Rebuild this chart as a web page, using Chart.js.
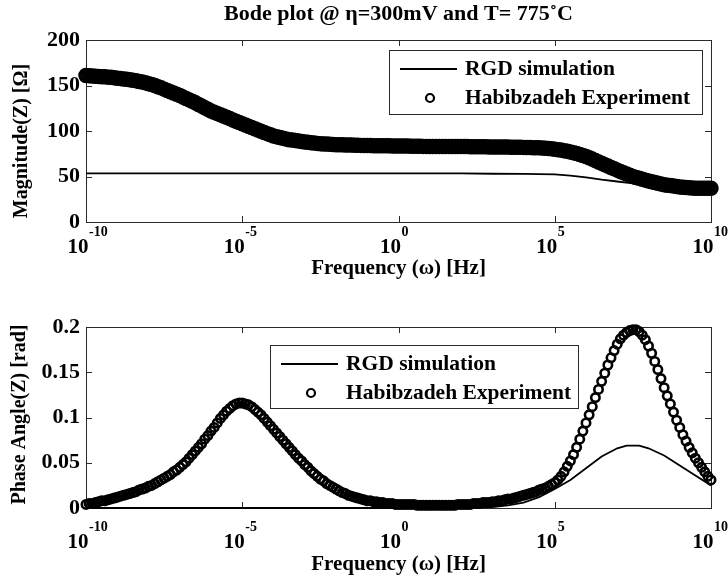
<!DOCTYPE html>
<html>
<head>
<meta charset="utf-8">
<script src="https://cdn.jsdelivr.net/npm/chart.js@4/dist/chart.umd.min.js"></script>
<style>
  html, body { margin: 0; padding: 0; background: #fff; }
  #wrap { position: relative; width: 728px; height: 577px; }
  #magCanvas { position: absolute; left: 0; top: 0; }
  #phaseCanvas { position: absolute; left: 0; top: 290px; }
</style>
</head>
<body>
<div id="wrap">
  <canvas id="magCanvas" width="728" height="290"></canvas>
  <canvas id="phaseCanvas" width="728" height="287"></canvas>
</div>
<script>
// log10 of the measured frequencies (Hz)
const freqExp = [
  -10,-9.9,-9.8,-9.7,-9.6,-9.5,-9.4,-9.3,-9.2,-9.1,
  -9,-8.9,-8.8,-8.7,-8.6,-8.5,-8.4,-8.3,-8.2,-8.1,
  -8,-7.9,-7.8,-7.7,-7.6,-7.5,-7.4,-7.3,-7.2,-7.1,
  -7,-6.9,-6.8,-6.7,-6.6,-6.5,-6.4,-6.3,-6.2,-6.1,
  -6,-5.9,-5.8,-5.7,-5.6,-5.5,-5.4,-5.3,-5.2,-5.1,
  -5,-4.9,-4.8,-4.7,-4.6,-4.5,-4.4,-4.3,-4.2,-4.1,
  -4,-3.9,-3.8,-3.7,-3.6,-3.5,-3.4,-3.3,-3.2,-3.1,
  -3,-2.9,-2.8,-2.7,-2.6,-2.5,-2.4,-2.3,-2.2,-2.1,
  -2,-1.9,-1.8,-1.7,-1.6,-1.5,-1.4,-1.3,-1.2,-1.1,
  -1,-0.9,-0.8,-0.7,-0.6,-0.5,-0.4,-0.3,-0.2,-0.1,
  0,0.1,0.2,0.3,0.4,0.5,0.6,0.7,0.8,0.9,
  1,1.1,1.2,1.3,1.4,1.5,1.6,1.7,1.8,1.9,
  2,2.1,2.2,2.3,2.4,2.5,2.6,2.7,2.8,2.9,
  3,3.1,3.2,3.3,3.4,3.5,3.6,3.7,3.8,3.9,
  4,4.1,4.2,4.3,4.4,4.5,4.6,4.7,4.8,4.9,
  5,5.1,5.2,5.3,5.4,5.5,5.6,5.7,5.8,5.9,
  6,6.1,6.2,6.3,6.4,6.5,6.6,6.7,6.8,6.9,
  7,7.1,7.2,7.3,7.4,7.5,7.6,7.7,7.8,7.9,
  8,8.1,8.2,8.3,8.4,8.5,8.6,8.7,8.8,8.9,
  9,9.1,9.2,9.3,9.4,9.5,9.6,9.7,9.8,9.9,
  10
];

// Habibzadeh experiment: |Z| in ohm
const magnitudeExp = [
  161,160.7,160.5,160.2,160,159.7,159.5,159.2,159,158.5,
  158,157.6,157.2,156.8,156.3,155.8,155.2,154.5,153.8,153,
  152,151,149.9,148.7,147.4,146,144.6,143.2,141.8,140.4,
  139,137.4,135.8,134.2,132.6,131,129.2,127.4,125.6,123.8,
  122,120.6,119.2,117.8,116.4,115,113.6,112.2,110.8,109.4,
  108,106.6,105.2,103.8,102.4,101,99.7,98.4,97.1,95.8,
  94.5,93.6,92.8,92,91.2,90.5,90,89.5,89,88.5,
  88,87.6,87.2,86.8,86.4,86,85.8,85.6,85.4,85.2,
  85,84.9,84.8,84.7,84.6,84.5,84.4,84.3,84.2,84.1,
  84,84,83.9,83.9,83.8,83.8,83.7,83.7,83.6,83.6,
  83.5,83.5,83.4,83.4,83.3,83.3,83.2,83.2,83.1,83.1,
  83,83,83,83,83,83,83,83,83,83,
  83,82.9,82.9,82.8,82.8,82.7,82.7,82.6,82.6,82.5,
  82.5,82.5,82.4,82.4,82.3,82.3,82.2,82.2,82.1,82.1,
  82,81.9,81.8,81.7,81.6,81.5,81.3,81,80.7,80.4,
  80,79.5,79,78.4,77.7,77,76.1,75.2,74.2,73.1,
  72,70.6,69.1,67.6,66,64.5,63,61.5,60,58.5,
  57,55.6,54.2,52.8,51.4,50,49,48,47,46,
  45,44.2,43.4,42.6,41.8,41,40.5,40,39.5,39,
  38.5,38.2,37.9,37.6,37.3,37,37,37,37,37,
  37
];

// Habibzadeh experiment: phase angle in rad
const phaseExp = [
  0.004,0.005,0.005,0.006,0.007,0.008,0.008,0.009,0.010,0.011,
  0.012,0.013,0.014,0.015,0.016,0.017,0.018,0.020,0.021,0.022,
  0.024,0.025,0.027,0.029,0.031,0.033,0.035,0.037,0.040,0.042,
  0.045,0.048,0.051,0.055,0.059,0.063,0.067,0.071,0.076,0.080,
  0.085,0.089,0.094,0.099,0.103,0.107,0.110,0.113,0.115,0.116,
  0.116,0.115,0.114,0.112,0.109,0.106,0.103,0.099,0.095,0.091,
  0.087,0.083,0.079,0.075,0.071,0.067,0.063,0.059,0.055,0.052,
  0.048,0.045,0.041,0.038,0.035,0.032,0.030,0.027,0.025,0.023,
  0.021,0.019,0.017,0.016,0.014,0.013,0.012,0.011,0.010,0.009,
  0.008,0.008,0.007,0.007,0.006,0.006,0.005,0.005,0.005,0.004,
  0.004,0.004,0.004,0.004,0.004,0.004,0.003,0.003,0.003,0.003,
  0.003,0.003,0.003,0.003,0.003,0.003,0.003,0.003,0.003,0.004,
  0.004,0.004,0.004,0.004,0.005,0.005,0.005,0.006,0.006,0.006,
  0.007,0.007,0.008,0.008,0.009,0.010,0.010,0.011,0.012,0.013,
  0.014,0.015,0.016,0.017,0.018,0.020,0.021,0.022,0.024,0.026,
  0.028,0.031,0.035,0.040,0.046,0.052,0.059,0.067,0.076,0.085,
  0.094,0.103,0.112,0.122,0.131,0.140,0.149,0.158,0.166,0.174,
  0.181,0.187,0.191,0.194,0.196,0.197,0.197,0.195,0.191,0.186,
  0.179,0.171,0.162,0.153,0.143,0.133,0.124,0.115,0.106,0.097,
  0.089,0.081,0.074,0.067,0.061,0.055,0.050,0.045,0.040,0.035,
  0.031
];

// RGD simulation (log10 frequency, value)
const rgdMagFreqExp = [-10, -5, 0, 2, 3, 4, 5, 5.5, 6, 6.5, 7, 7.5, 8, 8.5, 9, 9.5, 10];
const rgdMagnitude  = [53.5, 53.5, 53.5, 53.5, 53, 52.8, 52.3, 51, 49, 46.5, 44.5, 42.5, 41, 39.5, 38, 37.3, 37];
const rgdPhaseFreqExp = [-10, -5, 0, 2, 3, 3.5, 4, 4.5, 5, 5.5, 6, 6.5, 7, 7.3, 7.7, 8, 8.5, 9, 9.5, 10];
const rgdPhase        = [0, 0, 0, 0, 0.001, 0.003, 0.006, 0.012, 0.021, 0.031, 0.044, 0.057, 0.066, 0.069, 0.069, 0.066, 0.058, 0.047, 0.036, 0.025];

// axis ticks
const decadeTicks = [-10, -5, 0, 5, 10];
const magnitudeTicks = [0, 50, 100, 150, 200];
const phaseTicks = [0, 0.05, 0.1, 0.15, 0.2];

const seriesNames = ['RGD simulation', 'Habibzadeh Experiment'];

const SERIF = '"Liberation Serif", "Times New Roman", Times, serif';
const INK = '#000';
const FRAME = '#2a2a2a';
const LABEL_SHIFT = -8;
const TICK_FONT = { family: SERIF, size: 21, weight: 'bold' };

function toPoints(exps, values) {
  return exps.map((e, i) => ({ x: Math.pow(10, e), y: values[i] }));
}

// Box, inward ticks, exponent superscripts, y-axis title and in-plot legend
const bodeFrame = {
  id: 'bodeFrame',
  beforeDatasetsDraw(chart) {
    const { ctx, scales: { x, y } } = chart;
    const L = Math.round(x.getPixelForValue(x.min)), R = Math.round(x.getPixelForValue(x.max));
    const T = Math.round(y.getPixelForValue(y.max)), B = Math.round(y.getPixelForValue(y.min));
    ctx.save();
    ctx.strokeStyle = FRAME;
    ctx.lineWidth = 1;
    ctx.beginPath();
    x.ticks.forEach(t => {
      const px = Math.round(x.getPixelForValue(t.value)) + 0.5;
      if (px <= L + 1 || px >= R - 1) return;
      ctx.moveTo(px, B); ctx.lineTo(px, B - 6);
      ctx.moveTo(px, T); ctx.lineTo(px, T + 6);
    });
    y.ticks.forEach(t => {
      const py = Math.round(y.getPixelForValue(t.value)) + 0.5;
      if (py <= T + 1 || py >= B - 1) return;
      ctx.moveTo(L, py); ctx.lineTo(L + 6, py);
      ctx.moveTo(R, py); ctx.lineTo(R - 6, py);
    });
    ctx.stroke();
    ctx.strokeRect(L + 0.5, T + 0.5, R - L, B - T);
    ctx.restore();
  },
  afterDatasetsDraw(chart, args, opts) {
    const { ctx, chartArea: a } = chart;
    const lg = opts.legend;
    const left = lg.right !== undefined ? a.right - lg.right - lg.width : a.left + lg.left;
    const top = a.top + lg.top;
    const lineDs = chart.data.datasets[0];
    const markDs = chart.data.datasets[1];
    ctx.save();
    ctx.fillStyle = '#fff';
    ctx.fillRect(left, top, lg.width, lg.height);
    ctx.strokeStyle = FRAME;
    ctx.lineWidth = 1;
    ctx.strokeRect(Math.round(left) + 0.5, Math.round(top) + 0.5, lg.width, lg.height);
    const row1 = top + 19, row2 = top + 48;
    // line sample
    ctx.strokeStyle = lineDs.borderColor;
    ctx.lineWidth = lineDs.borderWidth;
    ctx.beginPath();
    ctx.moveTo(left + 11, row1); ctx.lineTo(left + 68, row1);
    ctx.stroke();
    // marker sample
    ctx.strokeStyle = markDs.pointBorderColor;
    ctx.lineWidth = 2.2;
    ctx.beginPath();
    ctx.arc(left + 41, row2, 4, 0, Math.PI * 2);
    ctx.stroke();
    ctx.fillStyle = INK;
    ctx.font = 'bold 21.5px ' + SERIF;
    ctx.textAlign = 'left';
    ctx.textBaseline = 'middle';
    ctx.fillText(lineDs.label, left + 76, row1);
    ctx.fillText(markDs.label, left + 76, row2);
    ctx.restore();
  },
  afterDraw(chart, args, opts) {
    const { ctx, chartArea: a, scales: { x } } = chart;
    ctx.save();
    // exponents of the decade labels
    ctx.font = 'bold ' + TICK_FONT.size + 'px ' + SERIF;
    const w = ctx.measureText('10').width;
    ctx.font = 'bold 14px ' + SERIF;
    ctx.fillStyle = INK;
    ctx.textAlign = 'left';
    ctx.textBaseline = 'middle';
    const yc = a.bottom + opts.xTickPad + TICK_FONT.size * 0.6 - 15;
    x.ticks.forEach(t => {
      const px = x.getPixelForValue(t.value) + LABEL_SHIFT;
      const exp = Math.round(Math.log10(t.value));
      ctx.fillText(String(exp), px + w / 2 + 0.5, yc);
    });
    // y-axis title
    ctx.font = 'bold 20px ' + SERIF;
    ctx.textAlign = 'center';
    ctx.translate(opts.yTitleX, opts.yTitleY);
    ctx.rotate(-Math.PI / 2);
    ctx.fillText(opts.yTitle, 0, 0);
    ctx.restore();
  }
};

function bodeChart(canvasId, cfg) {
  return new Chart(document.getElementById(canvasId), {
    type: 'line',
    data: {
      datasets: [
        {
          label: seriesNames[0],
          data: cfg.line,
          borderColor: INK,
          borderWidth: 1.8,
          pointRadius: 0,
          fill: false,
          tension: 0,
          clip: false,
          order: 1
        },
        {
          label: seriesNames[1],
          data: cfg.markers,
          showLine: false,
          pointStyle: 'circle',
          pointRadius: cfg.markerRadius,
          pointBorderWidth: cfg.markerWidth,
          pointBorderColor: INK,
          pointBackgroundColor: 'rgba(0,0,0,0)',
          borderColor: INK,
          clip: false,
          order: 0
        }
      ]
    },
    options: {
      responsive: false,
      animation: false,
      devicePixelRatio: 1,
      events: [],
      layout: { padding: { left: 0, right: 17, top: cfg.padTop, bottom: 0 } },
      plugins: {
        legend: { display: false },
        tooltip: { enabled: false },
        title: cfg.title ? {
          display: true,
          text: cfg.title,
          fullSize: false,
          color: INK,
          font: { family: SERIF, size: 22, weight: 'bold' },
          padding: { top: 1, bottom: 12.6 }
        } : { display: false },
        bodeFrame: {
          legend: cfg.legend,
          xTickPad: cfg.xTickPad,
          yTitle: cfg.yTitle,
          yTitleX: cfg.yTitleX,
          yTitleY: cfg.yTitleY
        }
      },
      scales: {
        x: {
          type: 'logarithmic',
          min: 1e-10,
          max: 1e10,
          afterBuildTicks: s => { s.ticks = decadeTicks.map(e => ({ value: Math.pow(10, e) })); },
          afterFit: s => { s.height = cfg.xHeight; s.paddingLeft = 0; s.paddingRight = 0; },
          grid: { display: false, drawTicks: false },
          border: { display: false },
          ticks: {
            color: INK,
            font: TICK_FONT,
            padding: cfg.xTickPad,
            labelOffset: LABEL_SHIFT,
            maxRotation: 0,
            autoSkip: false,
            callback: () => '10'
          },
          title: {
            display: true,
            text: 'Frequency (ω) [Hz]',
            color: INK,
            font: { family: SERIF, size: 21, weight: 'bold' },
            padding: { top: 0, bottom: cfg.xTitlePad }
          }
        },
        y: {
          type: 'linear',
          min: 0,
          max: cfg.yMax,
          afterBuildTicks: s => { s.ticks = cfg.yTicks.map(v => ({ value: v })); },
          afterFit: s => { s.width = 86; },
          grid: { display: false, drawTicks: false },
          border: { display: false },
          ticks: { color: INK, font: { family: SERIF, size: 22, weight: 'bold' }, padding: 6, callback: v => String(v) },
          title: { display: false }
        }
      }
    },
    plugins: [bodeFrame]
  });
}

bodeChart('magCanvas', {
  title: 'Bode plot @ η=300mV and T= 775˚C',
  line: toPoints(rgdMagFreqExp, rgdMagnitude),
  markers: toPoints(freqExp, magnitudeExp),
  markerRadius: 6,
  markerWidth: 3.5,
  padTop: 0,
  xHeight: 68,
  xTickPad: 13,
  xTitlePad: 9,
  yMax: 200,
  yTicks: magnitudeTicks,
  yTitle: 'Magnitude(Z) [Ω]',
  yTitleX: 22,
  yTitleY: 141,
  legend: { right: 9, top: 10, width: 313, height: 64 }
});

bodeChart('phaseCanvas', {
  title: null,
  line: toPoints(rgdPhaseFreqExp, rgdPhase),
  markers: toPoints(freqExp, phaseExp),
  markerRadius: 4.2,
  markerWidth: 2.6,
  padTop: 37,
  xHeight: 69,
  xTickPad: 22,
  xTitlePad: 0,
  yMax: 0.2,
  yTicks: phaseTicks,
  yTitle: 'Phase Angle(Z) [rad]',
  yTitleX: 20,
  yTitleY: 124.5,
  legend: { left: 184, top: 18, width: 308, height: 63 }
});
</script>
</body>
</html>
